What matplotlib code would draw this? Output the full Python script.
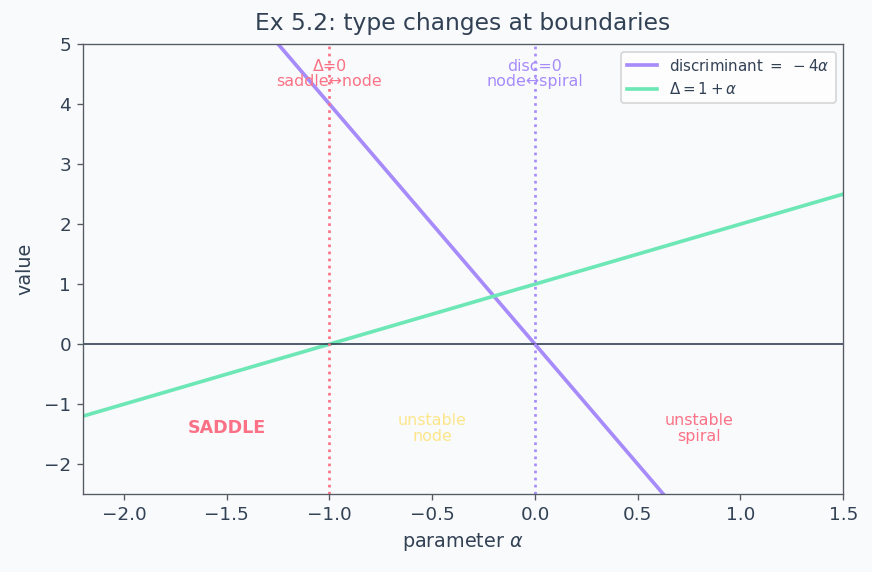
import numpy as np
import matplotlib.pyplot as plt

# parameter range and the two boundary quantities
alpha = np.array([-2.2, 1.5])
disc = np.array([8.8, -6.0])      # discriminant = -4 alpha
delta = np.array([-1.2, 2.5])     # Delta = 1 + alpha

boundaries = [-1.0, 0.0]
boundary_labels = ["Δ=0\nsaddle↔node", "disc=0\nnode↔spiral"]

regions = ["SADDLE", "unstable\nnode", "unstable\nspiral"]
region_x = [-1.5, -0.5, 0.8]

BG = "#f8fafc"
INK = "#334155"
SPINE = "#555a63"
VIOLET = "#a78bfa"
GREEN = "#6ee7b7"
ROSE = "#fb7185"
AMBER = "#fde68a"

plt.rcParams["text.color"] = INK
plt.rcParams["axes.labelcolor"] = INK
plt.rcParams["xtick.color"] = SPINE
plt.rcParams["ytick.color"] = SPINE
plt.rcParams["xtick.labelcolor"] = INK
plt.rcParams["ytick.labelcolor"] = INK

fig, ax = plt.subplots(figsize=(8.72 / 1.2, 5.72 / 1.2), dpi=120)
fig.patch.set_facecolor(BG)
ax.set_facecolor(BG)

ax.plot(alpha, disc, color=VIOLET, lw=2.2, label=r"discriminant $=\ -4\alpha$")
ax.plot(alpha, delta, color=GREEN, lw=2.2, label=r"$\Delta = 1 + \alpha$")
ax.axhline(0, color=INK, lw=1)

bcolors = [ROSE, VIOLET]
for xb, txt, c in zip(boundaries, boundary_labels, bcolors):
    ax.axvline(xb, color=c, ls=":", lw=1.6)
    ax.text(xb, 4.5, txt, color=c, ha="center", va="center", fontsize=9.5,
            linespacing=1.05)

rcolors = [ROSE, AMBER, ROSE]
for name, xr, c in zip(regions, region_x, rcolors):
    ax.text(xr, -1.4, name, color=c, ha="center", va="center",
            fontsize=10.5 if name == "SADDLE" else 9.5,
            fontweight="bold" if name == "SADDLE" else "normal",
            linespacing=1.1)

ax.set_xlim(-2.2, 1.5)
ax.set_ylim(-2.5, 5)
ax.set_xlabel(r"parameter $\alpha$", fontsize=11.5)
ax.set_ylabel("value", fontsize=11.5, labelpad=6)
ax.set_title("Ex 5.2: type changes at boundaries", fontsize=14, pad=8.5)
ax.tick_params(labelsize=11)
for s in ax.spines.values():
    s.set_color(SPINE)

leg = ax.legend(loc="upper right", fontsize=9, facecolor="white", framealpha=0.8)
leg.get_frame().set_edgecolor("#cccccc")

fig.subplots_adjust(left=0.095, right=0.967, top=0.923, bottom=0.136)
fig.savefig("out.png", facecolor=BG)
